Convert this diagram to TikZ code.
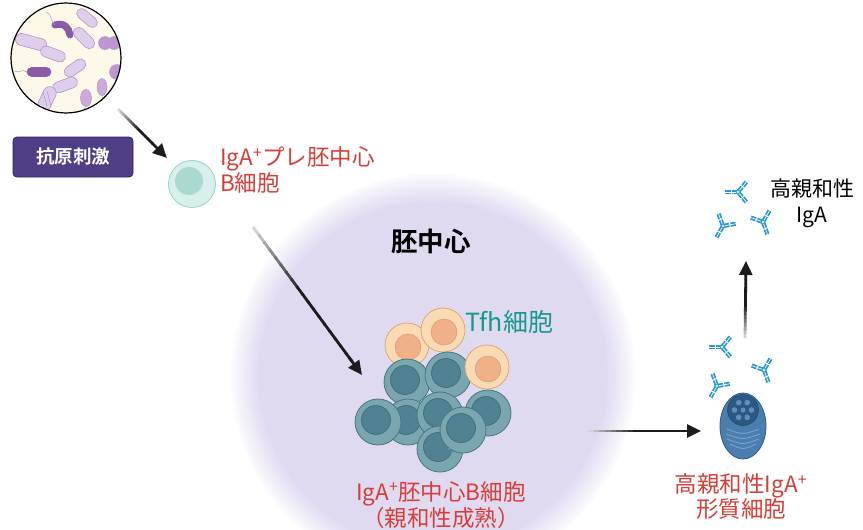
\documentclass[tikz,border=0pt]{standalone}
\usepackage{fontspec}
\setmainfont{Noto Sans CJK JP}[BoldFont={Noto Sans CJK JP Bold}]
\usetikzlibrary{calc,arrows.meta}

\definecolor{labred}{RGB}{214,62,56}
\definecolor{labteal}{RGB}{22,152,140}
\definecolor{gcmid}{RGB}{224,218,241}
\definecolor{cream}{RGB}{253,249,232}
\definecolor{baclight}{RGB}{222,206,235}
\definecolor{bacline}{RGB}{178,148,204}
\definecolor{bacmid}{RGB}{190,150,210}
\definecolor{bacdark}{RGB}{138,92,168}
\definecolor{agfill}{RGB}{80,62,134}
\definecolor{agline}{RGB}{44,34,88}
\definecolor{pgfillc}{RGB}{216,239,235}
\definecolor{pgline}{RGB}{150,210,198}
\definecolor{pginner}{RGB}{170,217,208}
\definecolor{tfhouter}{RGB}{250,218,178}
\definecolor{tfhline}{RGB}{222,160,110}
\definecolor{tfhinner}{RGB}{240,176,136}
\definecolor{bouter}{RGB}{122,166,176}
\definecolor{bline}{RGB}{72,118,130}
\definecolor{binner}{RGB}{80,130,146}
\definecolor{binline}{RGB}{60,104,120}
\definecolor{pcfill}{RGB}{74,126,174}
\definecolor{pcline}{RGB}{44,92,140}
\definecolor{nucfill}{RGB}{44,88,132}
\definecolor{nucdot}{RGB}{96,142,190}
\definecolor{erline}{RGB}{120,160,200}
\definecolor{abblue}{RGB}{40,150,210}
\definecolor{arrowink}{RGB}{28,28,28}

% capsule-shaped bacterium: x, y, angle, half length, half width, fill, outline
\newcommand\pill[7]{%
  \draw[rotate around={#3:(#1,#2)}, fill=#6, draw=#7, line width=0.6pt,
        rounded corners=#5pt] (#1-#4,#2-#5) rectangle (#1+#4,#2+#5);}

% arrow whose shaft fades in from light grey
\newcommand\gradarrow[2]{%
  \foreach \k in {0,...,17}{%
    \pgfmathsetmacro\gaA{\k/20}%
    \pgfmathsetmacro\gaB{(\k+1.2)/20}%
    \pgfmathtruncatemacro\mixp{min(100,20+\k*10)}%
    \draw[shaft, draw=arrowink!\mixp!white] ($(#1)!\gaA!(#2)$) -- ($(#1)!\gaB!(#2)$);
  }%
  \draw[shaft, draw=arrowink, -{Triangle[length=14pt,width=13pt]}] ($(#1)!0.88!(#2)$) -- (#2);
}

\begin{document}
\begin{tikzpicture}[x=1pt,y=-1pt,
  shaft/.style={line width=2.8pt},
  redlab/.style={text=labred, font=\fontsize{22.5}{26}\selectfont, inner sep=0pt},
  agbox/.style={rounded corners=4pt, fill=agfill, draw=agline, line width=0.8pt,
    text=white, minimum width=120pt, minimum height=40pt,
    font=\bfseries\fontsize{18.5}{18.5}\selectfont},
  tfh/.pic={
    \draw[fill=tfhouter, draw=tfhline, line width=0.7pt] (0,0) circle[radius=22pt];
    \draw[fill=tfhinner, draw=tfhinner!85!black, line width=0.4pt] (1,2) circle[radius=13pt];
  },
  bcell/.pic={
    \draw[fill=bouter, draw=bline, line width=0.8pt] (0,0) circle[radius=23pt];
    \draw[fill=binner, draw=binline, line width=0.6pt] (-2,-2) circle[radius=14.5pt];
  },
  antibody/.pic={
    \foreach \ang in {-140,-40,90}{
      \draw[abblue, line width=4.2pt] (0,0) -- (\ang:13);
      \draw[white, line width=0.7pt] (\ang:2) -- (\ang:13);
      \draw[white, line width=1pt] ($(\ang:7)+(\ang+90:2.5)$) -- ($(\ang:7)+(\ang-90:2.5)$);
    }
    \fill[white!75!abblue] (0,0) circle[radius=1.6pt];
  }
]
\useasboundingbox (0,0) rectangle (863,530);
\fill[white] (0,0) rectangle (863,530);

% germinal centre halo
\coordinate (gc) at (433,376);
\foreach \i in {0,...,30}{%
  \pgfmathsetmacro\rr{202-\i*1.6}%
  \pgfmathtruncatemacro\pp{min(100,12+\i*5)}%
  \fill[gcmid!\pp!white] (gc) circle[radius=\rr pt];
}

% antigen: bacteria in a round inset
\coordinate (bac) at (66,58);
\begin{scope}
  \clip (bac) circle[radius=55pt];
  \fill[cream] (bac) circle[radius=55pt];
  \draw[bacdark, line width=7pt, line cap=round] (55,25) .. controls (64,22) and (69,28) .. (70,35);
  \draw[bacline, line width=0.5pt] (55,25) .. controls (50,20) and (52,14) .. (46,12);
  \pill{87}{18}{-40}{12}{5}{baclight}{bacline}
  \pill{31}{42}{-15}{16}{6}{baclight}{bacline}
  \pill{84}{38}{-45}{13}{5.5}{baclight}{bacline}
  \pill{53}{54}{-20}{13}{5.5}{baclight}{bacline}
  \draw[bacline, line width=0.5pt] (27,72) .. controls (22,68) and (20,74) .. (14,71);
  \pill{39}{72}{0}{12}{4.5}{bacdark}{bacdark}
  \pill{75}{68}{35}{12}{5.5}{baclight}{bacline}
  \pill{65}{85}{20}{13}{5.5}{baclight}{bacline}
  \pill{47}{99}{65}{13}{6.5}{baclight}{bacline}
  \draw[bacline, line width=0.5pt] (43,92) -- (47,106) (47,91) -- (51,106);
  \draw[fill=bacmid, draw=bacline, line width=0.5pt] (105,43) circle[radius=6.5pt];
  \draw[fill=bacmid, draw=bacline, line width=0.5pt] (114,43) circle[radius=6.5pt];
  \draw[fill=bacmid, draw=bacline, line width=0.5pt] (117,72) circle[radius=7.5pt];
  \draw[fill=bacmid!80!white, draw=bacline, line width=0.5pt] (86,98) ellipse[x radius=5.5pt, y radius=8.5pt];
  \draw[fill=bacmid!80!white, draw=bacline, line width=0.5pt] (102,87) ellipse[x radius=5pt, y radius=8.5pt];
  \draw[bacline, line width=0.5pt] (86,106) .. controls (84,112) and (80,110) .. (79,116);
  \draw[bacline, line width=0.5pt] (102,95) .. controls (104,101) and (99,104) .. (100,110);
\end{scope}
\draw[line width=1.2pt] (bac) circle[radius=55pt];

\node[agbox] (ag) at (73,157) {抗原刺激};

% IgA+ pre-germinal-centre B cell
\node[circle, fill=pgfillc, draw=pgline, line width=0.8pt, minimum size=47pt, inner sep=0pt] (pregc) at (192,184) {};
\fill[pginner] (189,181) circle[radius=14pt];
\node[redlab, anchor=west, align=left] (pgl) at (220,170) {IgA\textsuperscript{+}プレ胚中心\\B細胞};

\node[font=\bfseries\fontsize{26.5}{26.5}\selectfont, inner sep=0pt] (gcl) at (431,241) {胚中心};

% cluster of germinal-centre B cells and Tfh cells
\pic at (407,345) {tfh};
\pic at (443,330) {tfh};
\pic at (407,382) {bcell};
\pic at (448,375) {bcell};
\pic at (487,367) {tfh};
\pic at (488,413) {bcell};
\pic at (408,422) {bcell};
\pic at (440,415) {bcell};
\pic at (378,422) {bcell};
\pic at (440,449) {bcell};
\pic at (463,430) {bcell};

\node[text=labteal, font=\fontsize{25}{25}\selectfont, anchor=west, inner sep=0pt] (tfhl) at (465,322) {Tfh細胞};
\node[redlab, align=center, font=\fontsize{22.5}{24}\selectfont] (gcbl) at (441,505) {IgA\textsuperscript{+}胚中心B細胞\\（親和性成熟）};

% plasma cell
\coordinate (pc) at (743,426);
\draw[fill=pcfill, draw=pcline, line width=0.8pt] (pc) ellipse[x radius=23pt, y radius=33pt];
\draw[fill=nucfill, draw=nucfill!80!black, line width=0.5pt] (743,410) circle[radius=15.5pt];
\foreach \a in {0,60,...,300}{\fill[nucdot] ($(743,410)+(\a:8.5)$) circle[radius=2.8pt];}
\fill[nucdot] (743,410) circle[radius=2.5pt];
\foreach \dy/\hw in {0/16,5/17,10/16,15/13}{
  \draw[erline, line width=1pt] (743-\hw,429+\dy) .. controls (743,435+\dy) .. (743+\hw,429+\dy);
}
\foreach \px/\py in {733,449,739,452,747,452,753,449}{\fill[nucdot] (\px,\py) circle[radius=1.2pt];}
\node[redlab, align=center, font=\fontsize{22.5}{25}\selectfont] (pcl) at (741,497) {高親和性IgA\textsuperscript{+}\\形質細胞};

% secreted antibodies
\pic[rotate=-90] at (722,347) {antibody};
\pic[rotate=-30] at (717,386) {antibody};
\pic[rotate=20] at (764,370) {antibody};
\pic[rotate=-90] at (738,192) {antibody};
\pic[rotate=-30] at (723,226) {antibody};
\pic[rotate=20] at (763,222) {antibody};
\node[align=center, font=\fontsize{21}{26}\selectfont, inner sep=0pt] (hal) at (812,203) {高親和性\\IgA};

% connectors
\coordinate (a1s) at (118,109);
\coordinate (a1e) at (167,158);
\coordinate (a2s) at (253,227);
\coordinate (a2e) at (362,375);
\coordinate (a3s) at (588,431);
\coordinate (a3e) at (701,431);
\coordinate (a4s) at (745,338);
\coordinate (a4e) at (746,261);
\gradarrow{a1s}{a1e}
\gradarrow{a2s}{a2e}
\gradarrow{a3s}{a3e}
\gradarrow{a4s}{a4e}
\end{tikzpicture}
\end{document}
